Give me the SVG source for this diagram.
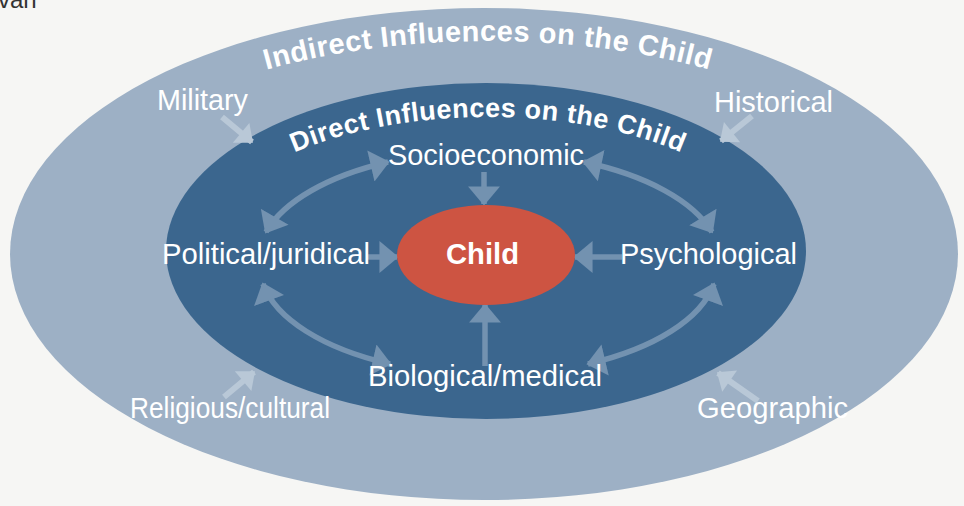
<svg xmlns="http://www.w3.org/2000/svg" width="964" height="506" viewBox="0 0 964 506">
<defs>
<style>
.lbl{font-family:"Liberation Sans",Arial,sans-serif;font-size:29px;fill:#ffffff;text-anchor:middle}
.arc{font-family:"Liberation Sans",Arial,sans-serif;font-weight:bold;fill:#ffffff;text-anchor:middle;letter-spacing:0.5px}
.inA{stroke:#7392b0;stroke-width:5.5;fill:none}
.outA{stroke:#b9c8d7;stroke-width:6;fill:none}
</style>
<marker id="hIn" viewBox="0 0 6 10" refX="5.5" refY="5" markerWidth="3.6" markerHeight="5.8" orient="auto-start-reverse" markerUnits="strokeWidth"><path d="M0,0 L6,5 L0,10 z" fill="#7392b0"/></marker>
<marker id="hOut" viewBox="0 0 6 10" refX="5.5" refY="5" markerWidth="3" markerHeight="4.3" orient="auto-start-reverse" markerUnits="strokeWidth"><path d="M0,0 L6,5 L0,10 z" fill="#b9c8d7"/></marker>
<path id="pOuter" d="M48,251 A440,210 0 0 1 928,251"/>
<path id="pInner" d="M203,251 A285,134 0 0 1 773,251"/>
</defs>
<rect width="964" height="506" fill="#f6f6f4"/>
<text x="-2" y="8" font-family="Liberation Sans, Arial, sans-serif" font-size="24" fill="#333333">van</text>
<g id="outer"><ellipse cx="484" cy="254" rx="474" ry="246" fill="#9db0c5"/></g>
<g id="inner"><ellipse cx="486" cy="251" rx="320" ry="168" fill="#3b668e"/></g>
<g id="connectors">
<line class="outA" x1="222" y1="117" x2="252" y2="142" marker-end="url(#hOut)"/>
<line class="outA" x1="752" y1="116" x2="721" y2="141" marker-end="url(#hOut)"/>
<line class="outA" x1="224" y1="397" x2="254" y2="372" marker-end="url(#hOut)"/>
<line class="outA" x1="758" y1="401" x2="718" y2="373" marker-end="url(#hOut)"/>
<line class="inA" x1="484" y1="172" x2="484" y2="204" marker-end="url(#hIn)"/>
<line class="inA" x1="368" y1="257" x2="397" y2="257" marker-end="url(#hIn)"/>
<line class="inA" x1="622" y1="257" x2="575" y2="257" marker-end="url(#hIn)"/>
<line class="inA" x1="485" y1="366" x2="485" y2="305" marker-end="url(#hIn)"/>
<path class="inA" d="M388,162 A232,110 0 0 0 266,232" marker-start="url(#hIn)" marker-end="url(#hIn)"/>
<path class="inA" d="M584,162 A232,110 0 0 1 712,232" marker-start="url(#hIn)" marker-end="url(#hIn)"/>
<path class="inA" d="M263,284 A232,110 0 0 0 390,364" marker-start="url(#hIn)" marker-end="url(#hIn)"/>
<path class="inA" d="M714,284 A232,110 0 0 1 588,364" marker-start="url(#hIn)" marker-end="url(#hIn)"/>
</g>
<g id="child"><ellipse cx="486" cy="255" rx="89" ry="50" fill="#cd5442"/><text class="lbl" x="482.5" y="264" font-weight="bold" textLength="73" lengthAdjust="spacingAndGlyphs">Child</text></g>
<g id="title-outer"><text class="arc" font-size="29"><textPath href="#pOuter" startOffset="50%">Indirect Influences on the Child</textPath></text></g>
<g id="title-inner"><text class="arc" font-size="27"><textPath href="#pInner" startOffset="50%">Direct Influences on the Child</textPath></text></g>
<g id="socioeconomic"><text class="lbl" x="486" y="165" textLength="196" lengthAdjust="spacingAndGlyphs">Socioeconomic</text></g>
<g id="political"><text class="lbl" x="266" y="264" textLength="208" lengthAdjust="spacingAndGlyphs">Political/juridical</text></g>
<g id="psychological"><text class="lbl" x="708.5" y="264" textLength="177" lengthAdjust="spacingAndGlyphs">Psychological</text></g>
<g id="biological"><text class="lbl" x="485" y="386" textLength="234" lengthAdjust="spacingAndGlyphs">Biological/medical</text></g>
<g id="military"><text class="lbl" x="202.5" y="110" textLength="91" lengthAdjust="spacingAndGlyphs">Military</text></g>
<g id="historical"><text class="lbl" x="773.5" y="112" textLength="119" lengthAdjust="spacingAndGlyphs">Historical</text></g>
<g id="religious"><text class="lbl" x="230" y="418" textLength="200" lengthAdjust="spacingAndGlyphs">Religious/cultural</text></g>
<g id="geographic"><text class="lbl" x="772.5" y="418" textLength="151" lengthAdjust="spacingAndGlyphs">Geographic</text></g>
</svg>
